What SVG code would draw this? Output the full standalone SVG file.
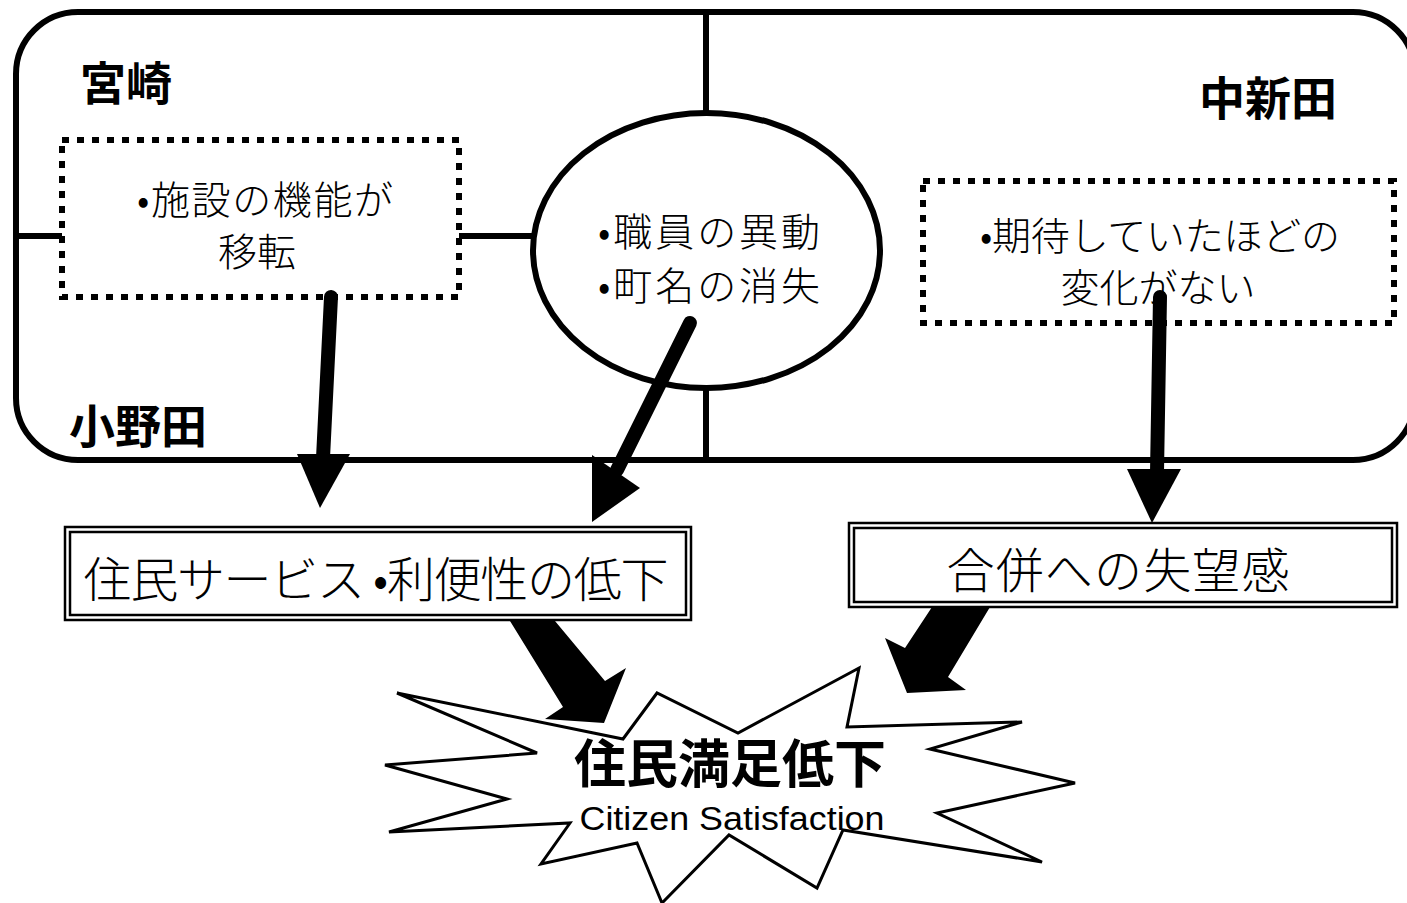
<svg xmlns="http://www.w3.org/2000/svg" width="1407" height="903" viewBox="0 0 1407 903">
<style>
.jp{font-family:"Noto Sans CJK JP","Noto Sans CJK SC",sans-serif;fill:#000}
.r{font-size:39px;font-weight:300}
.big{font-size:48px;font-weight:300}
.lbl{font-size:46px;font-weight:700}
.ttl{font-size:52px;font-weight:700}
.en{font-family:"Liberation Sans",Arial,sans-serif;font-size:33px;fill:#000}
.frame{fill:none;stroke:#000;stroke-width:6}
.dot{fill:none;stroke:#000;stroke-width:6;stroke-dasharray:7 8}
.dbl{fill:#fff;stroke:#000;stroke-width:2.5}
.dbli{fill:none;stroke:#000;stroke-width:2.5}
.shaft{stroke:#000;stroke-width:14;stroke-linecap:round;fill:none}
.head{fill:#000;stroke:none}
</style>
<rect width="1407" height="903" fill="#fff"/>

<g id="region">
  <rect class="frame" x="16" y="12" width="1399" height="448" rx="62" ry="62"/>
  <text class="jp lbl" x="80" y="100">宮崎</text>
  <text class="jp lbl" x="1337" y="115" text-anchor="end">中新田</text>
  <text class="jp lbl" x="69" y="443">小野田</text>
</g>

<g id="dividers">
  <line class="frame" x1="706" y1="12" x2="706" y2="113"/>
  <line class="frame" x1="706" y1="388" x2="706" y2="460"/>
  <line class="frame" x1="16" y1="236" x2="62" y2="236"/>
  <line class="frame" x1="459" y1="236" x2="533" y2="236"/>
</g>

<g id="box-miyazaki">
  <rect class="dot" x="62" y="140" width="397" height="157"/>
  <text class="jp r" x="265" y="214" text-anchor="middle" textLength="256">•施設の機能が</text>
  <text class="jp r" x="257" y="266" text-anchor="middle">移転</text>
</g>

<g id="ellipse-common">
  <ellipse class="frame" fill="#fff" cx="706.5" cy="250.5" rx="173.5" ry="137.5"/>
  <text class="jp r" x="709" y="246" text-anchor="middle" textLength="222">•職員の異動</text>
  <text class="jp r" x="709" y="300" text-anchor="middle" textLength="222">•町名の消失</text>
</g>

<g id="box-nakashinden">
  <rect class="dot" x="923" y="181" width="471" height="142"/>
  <text class="jp r" x="1160" y="250" text-anchor="middle" textLength="360">•期待していたほどの</text>
  <text class="jp r" x="1158" y="302" text-anchor="middle">変化がない</text>
</g>

<g id="box-service">
  <rect class="dbl" x="65" y="527" width="626" height="93"/>
  <rect class="dbli" x="70" y="532" width="616" height="83"/>
  <text class="jp big" x="376" y="597" text-anchor="middle" textLength="585">住民サービス •利便性の低下</text>
</g>

<g id="box-disappoint">
  <rect class="dbl" x="849" y="523" width="548" height="84"/>
  <rect class="dbli" x="854" y="528" width="538" height="74"/>
  <text class="jp big" x="1118" y="588" text-anchor="middle" textLength="343">合併への失望感</text>
</g>

<g id="starburst">
  <polygon fill="#fff" stroke="#000" stroke-width="3" stroke-linejoin="miter"
    points="397,693 623,739 657,693 738,733 859,668 847,727 1022,722 930,749 1075,783 937,813 1042,862 843,830 817,888 729,835 662,903 637,843 541,864 570,823 389,832 507,799 385,765 537,753"/>
  <text class="jp ttl" x="730" y="783" text-anchor="middle">住民満足低下</text>
  <text class="en" x="732" y="830" text-anchor="middle" textLength="305" lengthAdjust="spacingAndGlyphs">Citizen Satisfaction</text>
</g>

<g id="connectors">
  <line class="shaft" x1="331" y1="297" x2="323" y2="458"/>
  <polygon class="head" points="297,454 350,454 320,508"/>
  <line class="shaft" x1="690" y1="323" x2="617" y2="470"/>
  <polygon class="head" points="592,455 640,488 592,522"/>
  <line class="shaft" x1="1160" y1="297" x2="1157" y2="472"/>
  <polygon class="head" points="1127,469 1181,469 1152,523"/>
  <polygon class="head" points="510,621 555,621 605,681 626,668 604,723 545,719 563,707"/>
  <polygon class="head" points="932,607 990,607 948,677 966,690 907,693 885,638 905,648"/>
</g>
</svg>
